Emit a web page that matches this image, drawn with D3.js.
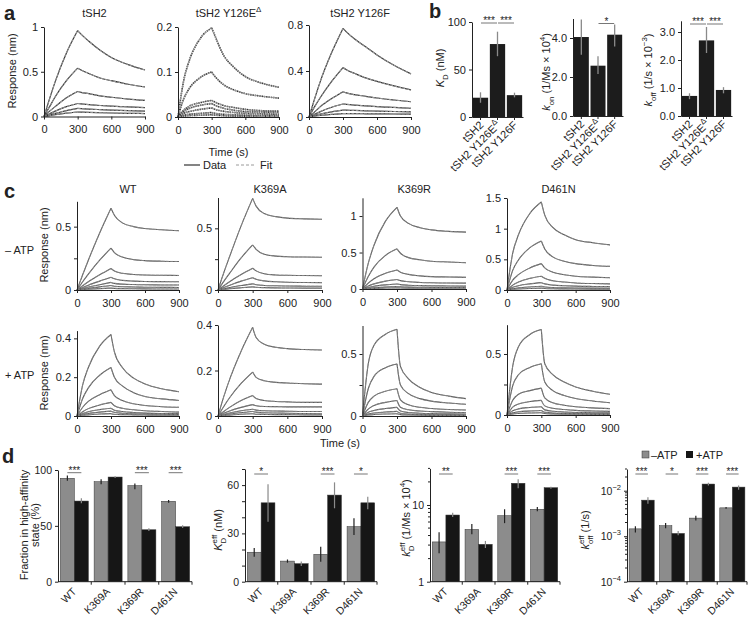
<!DOCTYPE html>
<html><head><meta charset="utf-8">
<script src="https://cdn.jsdelivr.net/npm/d3@7"></script>
<style>
body{margin:0;background:#fff;}
svg{font-family:"Liberation Sans",Arial,Helvetica,sans-serif;}
</style></head><body>
<svg id="c" width="750" height="618"></svg>
<script>
// ---------- DATA ----------
const T = [0,50,100,200,300,330,400,500,600,750,900];
const timeTicks = [0,300,600,900];

// panel a (response, nm)
const aTitles = ["tSH2","tSH2 Y126EΔ","tSH2 Y126F"];
const a_tSH2 = [
 [0,0.20,0.39,0.71,0.96,0.92,0.84,0.74,0.66,0.58,0.52],
 [0,0.11,0.22,0.40,0.54,0.52,0.48,0.43,0.40,0.36,0.33],
 [0,0.06,0.11,0.21,0.28,0.27,0.255,0.23,0.215,0.195,0.18],
 [0,0.03,0.06,0.11,0.145,0.14,0.133,0.123,0.115,0.107,0.10],
 [0,0.02,0.035,0.065,0.09,0.088,0.083,0.077,0.072,0.066,0.06],
 [0,0.01,0.02,0.037,0.05,0.049,0.046,0.042,0.039,0.036,0.033]
];
const a_Y126E = [
 [0,0.08,0.125,0.175,0.198,0.18,0.14,0.11,0.09,0.075,0.066],
 [0,0.04,0.063,0.088,0.10,0.09,0.073,0.06,0.052,0.046,0.042],
 [0,0.015,0.024,0.032,0.037,0.033,0.026,0.021,0.017,0.014,0.013],
 [0,0.012,0.019,0.026,0.03,0.026,0.02,0.015,0.012,0.011,0.01],
 [0,0.008,0.012,0.017,0.02,0.017,0.013,0.01,0.008,0.007,0.006],
 [0,0.004,0.006,0.008,0.01,0.008,0.006,0.005,0.004,0.003,0.003],
 [0,0.002,0.003,0.004,0.005,0.004,0.003,0.002,0.002,0.001,0.001]
];
const a_Y126F = [
 [0,0.16,0.31,0.56,0.77,0.74,0.68,0.61,0.54,0.45,0.375],
 [0,0.09,0.17,0.31,0.43,0.41,0.38,0.34,0.31,0.27,0.235],
 [0,0.045,0.09,0.16,0.22,0.21,0.195,0.18,0.165,0.148,0.133],
 [0,0.024,0.047,0.085,0.113,0.11,0.104,0.097,0.09,0.083,0.076],
 [0,0.013,0.025,0.045,0.06,0.059,0.057,0.054,0.051,0.048,0.045],
 [0,0.007,0.013,0.023,0.03,0.03,0.029,0.028,0.027,0.026,0.025]
];

// panel c (response, nm)
const cTitles = ["WT","K369A","K369R","D461N"];
const c_WT_noATP = [
 [0,0.12,0.235,0.45,0.645,0.59,0.53,0.50,0.485,0.475,0.468],
 [0,0.065,0.125,0.235,0.33,0.295,0.26,0.24,0.232,0.227,0.225],
 [0,0.034,0.065,0.12,0.17,0.15,0.132,0.122,0.118,0.116,0.115],
 [0,0.02,0.038,0.07,0.10,0.088,0.076,0.07,0.067,0.066,0.065],
 [0,0.012,0.023,0.042,0.06,0.052,0.046,0.043,0.041,0.04,0.04],
 [0,0.007,0.013,0.025,0.035,0.03,0.026,0.024,0.022,0.021,0.02],
 [0,0.003,0.006,0.011,0.015,0.013,0.011,0.01,0.009,0.008,0.008]
];
const c_K369A_noATP = [
 [0,0.14,0.27,0.52,0.743,0.68,0.62,0.595,0.583,0.577,0.573],
 [0,0.07,0.135,0.26,0.365,0.33,0.29,0.275,0.27,0.267,0.265],
 [0,0.035,0.067,0.125,0.176,0.155,0.132,0.122,0.119,0.117,0.116],
 [0,0.02,0.038,0.072,0.10,0.087,0.074,0.067,0.063,0.061,0.06],
 [0,0.01,0.019,0.036,0.05,0.043,0.037,0.034,0.032,0.031,0.03],
 [0,0.005,0.01,0.018,0.025,0.022,0.019,0.017,0.016,0.015,0.015]
];
const c_K369R_noATP = [
 [0,0.35,0.60,0.93,1.12,1.0,0.90,0.84,0.81,0.79,0.78],
 [0,0.17,0.30,0.46,0.55,0.49,0.43,0.40,0.38,0.37,0.36],
 [0,0.08,0.14,0.215,0.26,0.23,0.20,0.18,0.17,0.165,0.16],
 [0,0.04,0.07,0.108,0.13,0.115,0.10,0.09,0.085,0.082,0.08],
 [0,0.02,0.037,0.057,0.068,0.06,0.052,0.047,0.044,0.042,0.04],
 [0,0.01,0.018,0.028,0.034,0.03,0.026,0.024,0.022,0.021,0.02],
 [0,0.005,0.009,0.013,0.016,0.014,0.012,0.011,0.01,0.01,0.01]
];
const c_D461N_noATP = [
 [0,0.60,0.90,1.25,1.435,1.22,1.02,0.90,0.82,0.77,0.735],
 [0,0.32,0.49,0.69,0.80,0.67,0.54,0.47,0.43,0.40,0.385],
 [0,0.16,0.25,0.36,0.43,0.36,0.29,0.25,0.225,0.21,0.20],
 [0,0.08,0.13,0.19,0.225,0.19,0.15,0.13,0.115,0.105,0.10],
 [0,0.045,0.07,0.10,0.12,0.10,0.08,0.07,0.063,0.058,0.055],
 [0,0.022,0.035,0.05,0.06,0.05,0.04,0.035,0.032,0.03,0.028],
 [0,0.011,0.017,0.025,0.03,0.025,0.02,0.018,0.016,0.015,0.014]
];
const c_WT_ATP = [
 [0,0.16,0.25,0.36,0.42,0.33,0.25,0.195,0.165,0.14,0.125],
 [0,0.09,0.145,0.21,0.25,0.20,0.155,0.12,0.10,0.088,0.08],
 [0,0.045,0.075,0.11,0.135,0.105,0.08,0.063,0.054,0.048,0.045],
 [0,0.022,0.038,0.057,0.07,0.053,0.04,0.032,0.027,0.023,0.02],
 [0,0.013,0.022,0.033,0.04,0.03,0.023,0.018,0.015,0.013,0.012],
 [0,0.008,0.013,0.02,0.025,0.019,0.014,0.011,0.01,0.009,0.008],
 [0,0.004,0.006,0.01,0.012,0.009,0.007,0.006,0.005,0.004,0.004]
];
const c_K369A_ATP = [
 [0,0.085,0.16,0.285,0.39,0.345,0.315,0.302,0.296,0.292,0.29],
 [0,0.042,0.08,0.143,0.193,0.17,0.155,0.148,0.145,0.142,0.14],
 [0,0.02,0.038,0.068,0.09,0.077,0.068,0.064,0.062,0.06,0.06],
 [0,0.012,0.022,0.038,0.05,0.045,0.042,0.041,0.04,0.04,0.04],
 [0,0.007,0.013,0.023,0.03,0.026,0.023,0.022,0.021,0.02,0.02],
 [0,0.005,0.009,0.015,0.02,0.017,0.014,0.013,0.012,0.011,0.01],
 [0,0.002,0.004,0.008,0.01,0.008,0.007,0.006,0.006,0.005,0.005]
];
const c_K369R_ATP = [
 [0,0.42,0.57,0.66,0.70,0.40,0.30,0.23,0.19,0.16,0.14],
 [0,0.22,0.32,0.39,0.42,0.25,0.18,0.14,0.12,0.105,0.095],
 [0,0.11,0.16,0.20,0.22,0.13,0.09,0.07,0.06,0.052,0.048],
 [0,0.055,0.085,0.11,0.125,0.07,0.05,0.04,0.035,0.03,0.028],
 [0,0.03,0.045,0.06,0.07,0.04,0.028,0.022,0.019,0.017,0.015],
 [0,0.015,0.024,0.032,0.037,0.022,0.015,0.012,0.01,0.009,0.008],
 [0,0.008,0.012,0.016,0.018,0.011,0.008,0.006,0.005,0.005,0.004]
];
const c_D461N_ATP = [
 [0,0.40,0.56,0.66,0.70,0.42,0.33,0.27,0.23,0.195,0.17],
 [0,0.24,0.33,0.39,0.42,0.27,0.20,0.16,0.135,0.115,0.10],
 [0,0.12,0.17,0.20,0.22,0.14,0.10,0.08,0.068,0.058,0.052],
 [0,0.065,0.09,0.11,0.12,0.075,0.055,0.045,0.038,0.033,0.03],
 [0,0.035,0.05,0.062,0.068,0.042,0.031,0.025,0.021,0.019,0.017],
 [0,0.018,0.026,0.033,0.037,0.023,0.017,0.013,0.011,0.01,0.009],
 [0,0.009,0.013,0.017,0.019,0.012,0.009,0.007,0.006,0.005,0.005]
];

// panel b
const bCats = ["tSH2","tSH2 Y126EΔ","tSH2 Y126F"];
const bKD = [20.3, 76.8, 23];
const bKDerr = [[15,26],[64,89.8],[20.7,25.6]];
const bKDsig = [[0,1,"***"],[1,2,"***"]];
const bKon = [4.05, 2.58, 4.17];
const bKonErr = [[3.14,4.95],[2.16,3.06],[3.57,4.69]];
const bKonSig = [[1,2,"*"]];
const bKoff = [0.717, 2.7, 0.93];
const bKoffErr = [[0.6,0.81],[2.25,3.18],[0.81,1.03]];
const bKoffSig = [[0,1,"***"],[1,2,"***"]];

// panel d
const dCats = ["WT","K369A","K369R","D461N"];
const dSeries = ["–ATP","+ATP"];
const dFrac_minus = [92.6, 89.5, 86, 72];
const dFrac_plus = [72.2, 93.7, 46.5, 49.2];
const dFracErr_minus = [[90.3,95],[87.2,91.7],[82.7,88],[70.7,73.1]];
const dFracErr_plus = [[70.2,74.7],[92.8,94.5],[45.4,47.8],[48.1,50.5]];
const dFracSig = ["***","","***","***"];
const dKD_minus = [18.3, 12.8, 17, 34.2];
const dKD_plus = [49, 11.2, 53.8, 49];
const dKDErr_minus = [[15.5,21],[11.8,13.8],[12.4,21.7],[29,39.4]];
const dKDErr_plus = [[37.3,60.5],[9.8,12.6],[45.6,61.7],[45,52.8]];
const dKDSig = ["*","","***","*"];
const dkD_minus = [3.3, 4.8, 7.25, 8.8];
const dkD_plus = [7.4, 3.07, 19.2, 16.8];
const dkDErr_minus = [[2.35,4.4],[4.15,5.65],[5.8,8.8],[8.3,9.4]];
const dkDErr_plus = [[7.0,7.9],[2.75,3.4],[16.5,21.6],[16.3,17.3]];
const dkDSig = ["**","","***","***"];
const dkoff_minus = [1.45e-3, 1.7e-3, 2.5e-3, 4.2e-3];
const dkoff_plus = [6.2e-3, 1.15e-3, 1.4e-2, 1.2e-2];
const dkoffErr_minus = [[1.2e-3,1.65e-3],[1.5e-3,1.95e-3],[2.2e-3,2.8e-3],[4.0e-3,4.4e-3]];
const dkoffErr_plus = [[5.2e-3,7.2e-3],[1.05e-3,1.3e-3],[1.3e-2,1.5e-2],[1.05e-2,1.3e-2]];
const dkoffSig = ["***","*","***","***"];

// ---------- DRAWING ----------
const svg = d3.select('#c');
const INK = '#222';

function rich(t, parts, fs){
  let shift = 0, prev = null;
  parts.forEach(p=>{
    let target=0, size=fs;
    if(p.s==='sub'){target=fs*0.32; size=fs*0.72;}
    else if(p.s==='sup'){target=-fs*0.45; size=fs*0.72;}
    const ts=t.append('tspan').text(p.t).attr('font-size',size);
    if(target-shift!==0) ts.attr('dy',target-shift);
    if(p.i) ts.attr('font-style','italic');
    if(p.back && prev) ts.attr('dx', -prev.node().getComputedTextLength());
    shift=target; prev=ts;
  });
}
function text(x,y,s,o={}){
  const t=svg.append('text').attr('x',x).attr('y',y).attr('font-size',o.fs||11).attr('fill',o.fill||INK)
    .attr('text-anchor',o.anchor||'start').text(s);
  if(o.bold) t.attr('font-weight','bold');
  return t;
}
function rotLabel(x,y,parts,fs=11){
  const t=svg.append('text').attr('transform',`translate(${x},${y}) rotate(-90)`)
    .attr('text-anchor','middle').attr('font-size',fs).attr('fill',INK);
  rich(t,parts,fs); return t;
}
function styleAxis(a,fs=11){
  a.attr('font-family',null).attr('font-size',fs);
  a.selectAll('path,line').attr('stroke',INK);
  a.selectAll('text').attr('fill',INK);
}
function labelWithDelta(t, s, fs){
  const i=s.indexOf('Δ');
  if(i<0){t.text(s);return;}
  rich(t,[{t:s.slice(0,i)},{t:'Δ',s:'sup'}],fs);
}

// panel letters
text(4,20,'a',{fs:20,bold:true});
text(429,18,'b',{fs:20,bold:true});
text(4,198,'c',{fs:20,bold:true});
text(2,463,'d',{fs:20,bold:true});

function kinetic(p){
  const g=svg.append('g');
  const x=d3.scaleLinear().domain([0,900]).range([p.x0,p.x1]);
  const y=d3.scaleLinear().domain([0,p.dmax]).range([p.y0,p.y1]);
  const line=d3.line().x(d=>x(d[0])).y(d=>y(d[1])).curve(d3.curveMonotoneX);
  p.curves.forEach(c=>{
    const pts=T.map((t,i)=>[t,c[i]]);
    [pts.filter(q=>q[0]<=300),pts.filter(q=>q[0]>=300)].forEach(seg=>{
      g.append('path').attr('d',line(seg)).attr('fill','none').attr('stroke',p.dataColor)
        .attr('stroke-width',p.dataW).attr('stroke-dasharray',p.dataDash||null);
      g.append('path').attr('d',line(seg)).attr('fill','none').attr('stroke',p.fitColor)
        .attr('stroke-width',p.fitW).attr('stroke-dasharray','3,1.2');
    });
  });
  const xa=g.append('g').attr('transform',`translate(0,${p.y0})`)
    .call(d3.axisBottom(x).tickValues(timeTicks).tickSize(3).tickPadding(6).tickSizeOuter(0));
  const ya=g.append('g').attr('transform',`translate(${p.x0},0)`)
    .call(d3.axisLeft(y).tickValues(p.ticks).tickFormat(d=>p.labels.includes(d)?String(d):'')
      .tickSize(3).tickPadding(3).tickSizeOuter(0));
  styleAxis(xa); styleAxis(ya);
}

const aStyle={dataColor:'#333',dataW:1.2,fitColor:'#9a9a9a',fitW:1};
kinetic(Object.assign({x0:44,x1:145,y0:116.5,y1:27,dmax:1,ticks:[0,0.5,1],labels:[0,0.5,1],curves:a_tSH2},aStyle));
kinetic(Object.assign({x0:178,x1:279,y0:117,y1:27,dmax:0.2,ticks:[0,0.1,0.2],labels:[0,0.1,0.2],curves:a_Y126E},aStyle,{dataW:1.6,dataDash:'1.5,0.8'}));
kinetic(Object.assign({x0:309,x1:411,y0:117,y1:25,dmax:0.8,ticks:[0,0.4,0.8],labels:[0,0.4,0.8],curves:a_Y126F},aStyle));

text(94.5,17,aTitles[0],{anchor:'middle'});
labelWithDelta(text(228.5,17,'',{anchor:'middle'}),aTitles[1],11);
text(360,17,aTitles[2],{anchor:'middle'});
rotLabel(16,71,[{t:'Response (nm)'}]);
text(228.5,156,'Time (s)',{anchor:'middle'});
// legend a
svg.append('line').attr('x1',184).attr('x2',200).attr('y1',165).attr('y2',165).attr('stroke','#333').attr('stroke-width',1.2);
text(203,169,'Data');
svg.append('line').attr('x1',236).attr('x2',256).attr('y1',165).attr('y2',165).attr('stroke','#9a9a9a').attr('stroke-width',1).attr('stroke-dasharray','3,2');
text(260,169,'Fit');

// panel c
const cStyle={dataColor:'#5c5c5c',dataW:1.1,fitColor:'#8f8f8f',fitW:0.8};
const cPanels=[
 {x0:77,x1:179,y0:290,y1:201.3,dmax:0.7,ticks:[0,0.25,0.5],labels:[0,0.5],curves:c_WT_noATP},
 {x0:218,x1:322,y0:290,y1:197.5,dmax:0.75,ticks:[0,0.25,0.5],labels:[0,0.5],curves:c_K369A_noATP},
 {x0:362.5,x1:466,y0:289,y1:197.8,dmax:1.25,ticks:[0,0.5,1],labels:[0,0.5,1],curves:c_K369R_noATP},
 {x0:507,x1:610,y0:290,y1:198,dmax:1.5,ticks:[0,0.5,1,1.5],labels:[0,0.5,1,1.5],curves:c_D461N_noATP},
 {x0:77,x1:179,y0:416,y1:330.6,dmax:0.44,ticks:[0,0.2,0.4],labels:[0,0.2,0.4],curves:c_WT_ATP},
 {x0:218,x1:322,y0:416,y1:325,dmax:0.4,ticks:[0,0.2,0.4],labels:[0,0.2,0.4],curves:c_K369A_ATP},
 {x0:362.5,x1:466,y0:416,y1:325.5,dmax:0.73,ticks:[0,0.25,0.5],labels:[0,0.5],curves:c_K369R_ATP},
 {x0:507,x1:610,y0:415,y1:324.7,dmax:0.74,ticks:[0,0.25,0.5],labels:[0,0.5],curves:c_D461N_ATP}
];
cPanels.forEach(p=>kinetic(Object.assign(p,cStyle)));
cTitles.forEach((s,i)=>text((cPanels[i].x0+cPanels[i].x1)/2,193,s,{anchor:'middle'}));
rotLabel(48,245,[{t:'Response (nm)'}]);
rotLabel(48,373,[{t:'Response (nm)'}]);
text(5,254,'– ATP');
text(5,379,'+ ATP');
text(340,447,'Time (s)',{anchor:'middle'});

// panel b
function sigMark(g,xa,xb,y,s){
  g.append('line').attr('x1',xa).attr('x2',xb).attr('y1',y).attr('y2',y).attr('stroke','#777').attr('stroke-width',1);
  g.append('text').attr('x',(xa+xb)/2).attr('y',y+1).attr('text-anchor','middle').attr('font-size',10).attr('fill',INK).text(s);
}
function barB(p){
  const g=svg.append('g');
  const x=d3.scaleBand().domain(bCats).range([p.x0,p.x1]).paddingInner(0.1).paddingOuter(0.05);
  const y=d3.scaleLinear().domain([0,p.dmax]).range([p.y0,p.y1]);
  const bw=x.bandwidth();
  g.selectAll('rect').data(bCats).join('rect').attr('x',d=>x(d)).attr('width',bw)
    .attr('y',(d,i)=>y(p.values[i])).attr('height',(d,i)=>p.y0-y(p.values[i])).attr('fill','#1c1c1c');
  g.selectAll('line.err').data(bCats).join('line').attr('class','err')
    .attr('x1',d=>x(d)+bw/2).attr('x2',d=>x(d)+bw/2)
    .attr('y1',(d,i)=>y(p.err[i][0])).attr('y2',(d,i)=>y(p.err[i][1])).attr('stroke','#8a8a8a').attr('stroke-width',1.3);
  const ya=g.append('g').attr('transform',`translate(${p.x0},0)`)
    .call(d3.axisLeft(y).tickValues(p.ticks).tickSize(3).tickPadding(3).tickSizeOuter(0));
  const xa=g.append('g').attr('transform',`translate(0,${p.y0})`)
    .call(d3.axisBottom(x).tickSize(3).tickFormat('').tickSizeOuter(0));
  styleAxis(ya); styleAxis(xa);
  bCats.forEach(c=>{
    const cx=x(c)+bw/2;
    const t=g.append('text').attr('transform',`translate(${cx+1},${p.y0+6}) rotate(-45)`)
      .attr('text-anchor','end').attr('dy','0.35em').attr('font-size',11).attr('fill',INK);
    labelWithDelta(t,c,11);
  });
  p.sig.forEach(s=>{
    const xa1=x(bCats[s[0]])+bw/2+0.5, xb1=x(bCats[s[1]])+bw/2-0.5;
    sigMark(g,xa1,xb1,p.sigY,s[2]);
  });
}
barB({x0:472,x1:523,y0:117,y1:22,dmax:100,ticks:[0,50,100],values:bKD,err:bKDerr,sig:bKDsig,sigY:23});
barB({x0:573,x1:623,y0:116,y1:18.5,dmax:5,ticks:[0,2,4],values:bKon,err:bKonErr,sig:bKonSig,sigY:23.5});
barB({x0:681,x1:732,y0:116,y1:20.8,dmax:3.4,ticks:[0,1,2,3],values:bKoff,err:bKoffErr,sig:bKoffSig,sigY:24});
rotLabel(444,68,[{t:'K',i:true},{t:'D',s:'sub'},{t:' (nM)'}]);
rotLabel(550,72,[{t:'k',i:true},{t:'on',s:'sub'},{t:' (1/Ms × 10'},{t:'4',s:'sup'},{t:')'}]);
rotLabel(652,70,[{t:'k',i:true},{t:'off',s:'sub'},{t:' (1/s × 10'},{t:'−3',s:'sup'},{t:')'}]);

// panel d
function barD(p){
  const g=svg.append('g');
  const x=d3.scaleBand().domain(dCats).range([p.x0,p.x1]).paddingInner(0.17).paddingOuter(0.07);
  const y=(p.log?d3.scaleLog():d3.scaleLinear()).domain(p.domain).range([p.y0,p.y1]);
  const bw=x.bandwidth()/2;
  const sets=[{v:p.minus,e:p.errMinus,fill:'#8c8c8c',ec:'#222',off:0},{v:p.plus,e:p.errPlus,fill:'#161616',ec:'#8a8a8a',off:bw}];
  sets.forEach(s=>{
    g.selectAll(null).data(dCats).join('rect').attr('x',d=>x(d)+s.off).attr('width',bw)
      .attr('y',(d,i)=>y(s.v[i])).attr('height',(d,i)=>p.y0-y(s.v[i]))
      .attr('fill',s.fill).attr('stroke','#333').attr('stroke-width',0.5);
    g.selectAll(null).data(dCats).join('line').attr('x1',d=>x(d)+s.off+bw/2).attr('x2',d=>x(d)+s.off+bw/2)
      .attr('y1',(d,i)=>y(s.e[i][0])).attr('y2',(d,i)=>y(s.e[i][1])).attr('stroke',s.ec).attr('stroke-width',1.2);
  });
  const ay=d3.axisLeft(y).tickValues(p.ticks).tickSize(3).tickPadding(3).tickSizeOuter(0)
    .tickFormat(d=>p.labels.includes(d)?(p.fmt?'':String(d)):'');
  const ya=g.append('g').attr('transform',`translate(${p.x0},0)`).call(ay);
  styleAxis(ya,10.5);
  if(p.minor){
    ya.selectAll('line.minor').data(p.minor).join('line').attr('class','minor')
      .attr('x1',0).attr('x2',-2).attr('y1',d=>y(d)).attr('y2',d=>y(d)).attr('stroke',INK);
  }
  if(p.fmt){
    ya.selectAll('.tick text').each(function(d){
      if(!p.labels.includes(d)) return;
      const t=d3.select(this); t.text('');
      rich(t,[{t:'10'},{t:p.fmt(d),s:'sup'}],10.5);
    });
  }
  g.append('line').attr('x1',p.x0).attr('x2',p.x1).attr('y1',p.y0).attr('y2',p.y0).attr('stroke',INK);
  const step=x.step(), gap=step*0.17;
  const bounds=[1,2,3].map(i=>x(dCats[i])-gap/2).concat([p.x1]);
  bounds.forEach(b=>g.append('line').attr('x1',b).attr('x2',b).attr('y1',p.y0).attr('y2',p.y0+3).attr('stroke',INK));
  dCats.forEach(c=>{
    const cx=x(c)+x.bandwidth()/2;
    g.append('text').attr('transform',`translate(${cx},${p.y0+8}) rotate(-45)`)
      .attr('text-anchor','end').attr('dy','0.35em').attr('font-size',10.5).attr('fill',INK).text(c);
  });
  p.sig.forEach((s,i)=>{
    if(!s) return;
    const c=dCats[i];
    sigMark(g,x(c)+bw/2,x(c)+bw*1.5,p.sigY,s);
  });
}
barD({x0:58,x1:192,y0:581.7,y1:470,domain:[0,100],ticks:[0,50,100],labels:[0,50,100],
  minus:dFrac_minus,plus:dFrac_plus,errMinus:dFracErr_minus,errPlus:dFracErr_plus,sig:dFracSig,sigY:472.7});
barD({x0:245,x1:377,y0:581.7,y1:469,domain:[0,70],ticks:[0,10,20,30,40,50,60,70],labels:[0,30,60],
  minus:dKD_minus,plus:dKD_plus,errMinus:dKDErr_minus,errPlus:dKDErr_plus,sig:dKDSig,sigY:474});
barD({x0:430,x1:560,y0:581.7,y1:468.4,domain:[1,30],log:true,ticks:[1,10],labels:[1,10],
  minor:[2,3,4,5,6,7,8,9,20,30],
  minus:dkD_minus,plus:dkD_plus,errMinus:dkDErr_minus,errPlus:dkDErr_plus,sig:dkDSig,sigY:474});
barD({x0:627,x1:747,y0:581.7,y1:469,domain:[1e-4,0.03],log:true,ticks:[1e-4,1e-3,1e-2],labels:[1e-4,1e-3,1e-2],
  fmt:d=>'−'+Math.round(-Math.log10(d)),
  minor:[2e-4,3e-4,4e-4,5e-4,6e-4,7e-4,8e-4,9e-4,2e-3,3e-3,4e-3,5e-3,6e-3,7e-3,8e-3,9e-3,2e-2,3e-2],
  minus:dkoff_minus,plus:dkoff_plus,errMinus:dkoffErr_minus,errPlus:dkoffErr_plus,sig:dkoffSig,sigY:474});

svg.append('text').attr('transform','translate(28,525) rotate(-90)').attr('text-anchor','middle').attr('font-size',11).attr('fill',INK).text('Fraction in high-affinity');
svg.append('text').attr('transform','translate(39,525) rotate(-90)').attr('text-anchor','middle').attr('font-size',11).attr('fill',INK).text('state (%)');
rotLabel(222,530,[{t:'K',i:true},{t:'D',s:'sub'},{t:'eff',s:'sup',back:true},{t:' (nM)'}]);
rotLabel(410,518,[{t:'k',i:true},{t:'D',s:'sub'},{t:'eff',s:'sup',back:true},{t:' (1/Ms × 10'},{t:'4',s:'sup'},{t:')'}]);
rotLabel(589,530,[{t:'k',i:true},{t:'off',s:'sub'},{t:'eff',s:'sup',back:true},{t:' (1/s)'}]);

// legend d
svg.append('rect').attr('x',642).attr('y',451).attr('width',7).attr('height',7).attr('fill','#8c8c8c').attr('stroke','#333').attr('stroke-width',0.5);
text(651,459,dSeries[0]);
svg.append('rect').attr('x',686).attr('y',451).attr('width',7).attr('height',7).attr('fill','#161616');
text(696,459,dSeries[1]);
</script>
</body></html>
